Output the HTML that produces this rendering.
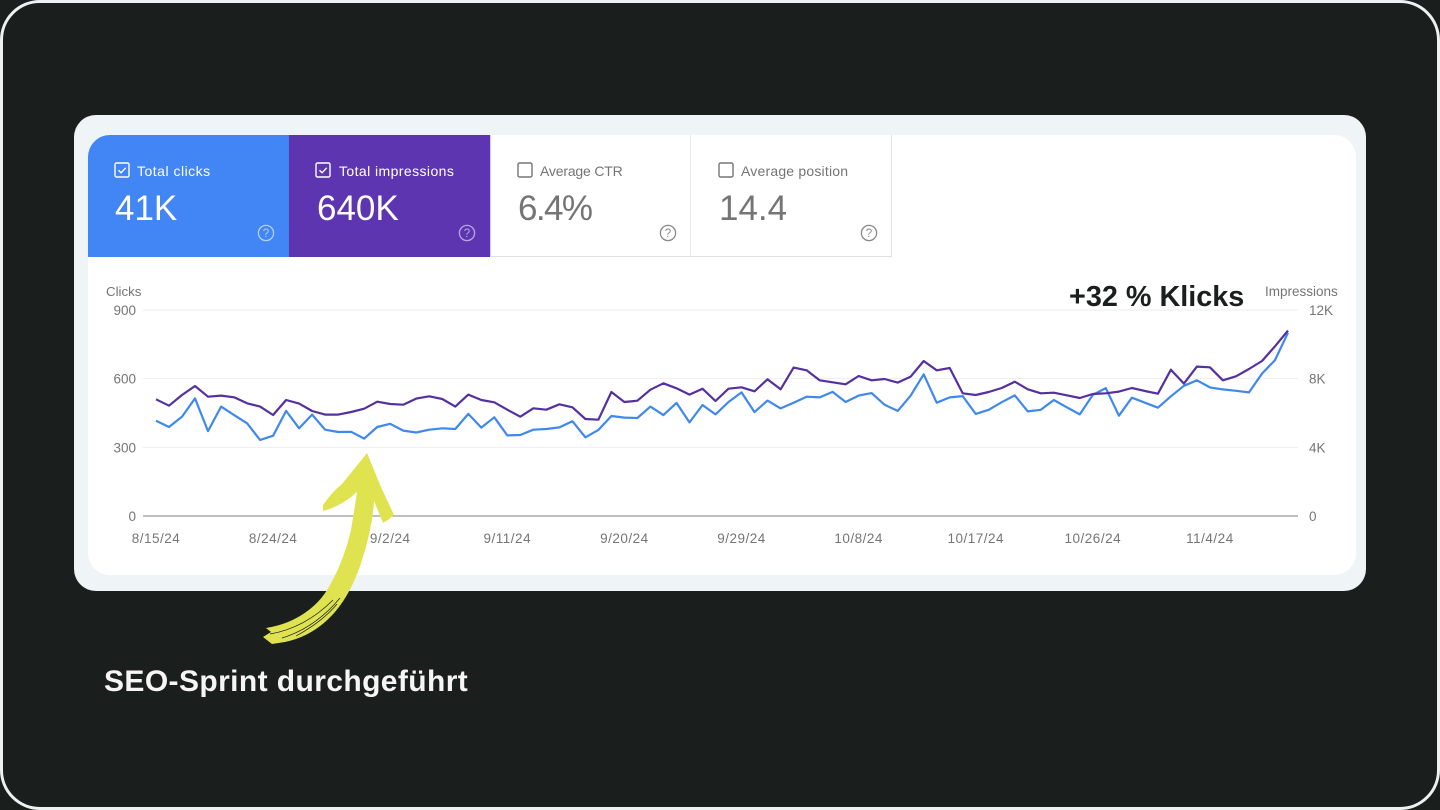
<!DOCTYPE html>
<html lang="en">
<head>
<meta charset="utf-8">
<title>Search performance chart</title>
<style>
html,body{margin:0;padding:0;width:1440px;height:810px;overflow:hidden;background:#1a1f1e;font-family:"Liberation Sans",sans-serif}
#frame{position:absolute;left:0;top:0;width:1440px;height:810px;box-sizing:border-box;border:3px solid #eef1f2;border-radius:40px;background:#1a1f1e}
#card{position:absolute;left:74px;top:115px;width:1292px;height:476px;background:#eff4f7;border-radius:22px}
#panel{position:absolute;left:88px;top:135px;width:1268px;height:440px;background:#fff;border-radius:22px}
.tile{position:absolute;top:135px;height:122px;width:201px;box-sizing:border-box}
.tile .lab{position:absolute;left:49px;top:27px;font-size:14px;line-height:18px;white-space:nowrap}
.tile .num{position:absolute;left:27px;top:53px;font-size:35px;line-height:42px;white-space:nowrap}
.tile svg{position:absolute}
.tile .cb{left:26px;top:27px}
.tile .q{left:169px;top:89px}
#t1{left:88px;background:#4285f4;color:#fff;border-top-left-radius:22px}
#t2{left:289px;background:#5e35b1;color:#fff}
#t3{left:490px;background:#fff;color:#757575;border-left:1px solid #d9c9f5;border-bottom:1px solid #dfe1e5;border-right:1px solid #e6e8ea}
#t4{left:691px;background:#fff;color:#757575;border-bottom:1px solid #dfe1e5;border-right:1px solid #dfe1e5}
#t1 .lab{letter-spacing:.5px}
#t2 .lab{letter-spacing:.42px;left:50px}
#t2 .num{left:28px}
#t3 .lab{left:49px;letter-spacing:-.18px}#t3 .num{left:27px;letter-spacing:-1.6px}#t3 .cb{left:26px}#t3 .q{left:168px}
#t4 .lab{left:50px;letter-spacing:.2px}#t4 .num{left:28px}#t4 .cb{left:27px}#t4 .q{left:169px}
#chart{position:absolute;left:0;top:0}
#arrow{position:absolute;left:0;top:0}
.note{position:absolute;font-weight:700;white-space:nowrap;line-height:36px}
#klicks{left:1069px;top:279px;font-size:28.8px;color:#1a1f1e}
#sprint{left:104px;top:664px;font-size:30px;letter-spacing:.4px;color:#f4f5f4}
</style>
</head>
<body>
<div id="frame"></div>
<div id="card"></div>
<div id="panel"></div>

<div class="tile" id="t1">
  <svg class="cb" width="17" height="17" viewBox="0 0 17 17"><rect x="1" y="1" width="14" height="14" rx="1.5" fill="none" stroke="#fff" stroke-width="1.4"/><path d="M4.5 8.2l2.6 2.6 4.6-5" fill="none" stroke="#fff" stroke-width="1.4"/></svg>
  <div class="lab">Total clicks</div>
  <div class="num">41K</div>
  <svg class="q" width="18" height="18" viewBox="0 0 18 18"><circle cx="9" cy="9" r="7.6" fill="none" stroke="#b3d0fb" stroke-width="1.3"/><text x="9" y="13" text-anchor="middle" font-size="11.5" fill="#b3d0fb" font-family="Liberation Sans">?</text></svg>
</div>
<div class="tile" id="t2">
  <svg class="cb" width="17" height="17" viewBox="0 0 17 17"><rect x="1" y="1" width="14" height="14" rx="1.5" fill="none" stroke="#fff" stroke-width="1.4"/><path d="M4.5 8.2l2.6 2.6 4.6-5" fill="none" stroke="#fff" stroke-width="1.4"/></svg>
  <div class="lab">Total impressions</div>
  <div class="num">640K</div>
  <svg class="q" width="18" height="18" viewBox="0 0 18 18"><circle cx="9" cy="9" r="7.6" fill="none" stroke="#b9a5e0" stroke-width="1.3"/><text x="9" y="13" text-anchor="middle" font-size="11.5" fill="#b9a5e0" font-family="Liberation Sans">?</text></svg>
</div>
<div class="tile" id="t3">
  <svg class="cb" width="17" height="17" viewBox="0 0 17 17"><rect x="1" y="1" width="14" height="14" rx="1.5" fill="none" stroke="#757575" stroke-width="1.4"/></svg>
  <div class="lab">Average CTR</div>
  <div class="num">6.4%</div>
  <svg class="q" width="18" height="18" viewBox="0 0 18 18"><circle cx="9" cy="9" r="7.6" fill="none" stroke="#8a8a8a" stroke-width="1.3"/><text x="9" y="13" text-anchor="middle" font-size="11.5" fill="#8a8a8a" font-family="Liberation Sans">?</text></svg>
</div>
<div class="tile" id="t4">
  <svg class="cb" width="17" height="17" viewBox="0 0 17 17"><rect x="1" y="1" width="14" height="14" rx="1.5" fill="none" stroke="#757575" stroke-width="1.4"/></svg>
  <div class="lab">Average position</div>
  <div class="num">14.4</div>
  <svg class="q" width="18" height="18" viewBox="0 0 18 18"><circle cx="9" cy="9" r="7.6" fill="none" stroke="#8a8a8a" stroke-width="1.3"/><text x="9" y="13" text-anchor="middle" font-size="11.5" fill="#8a8a8a" font-family="Liberation Sans">?</text></svg>
</div>

<svg id="chart" width="1440" height="810" viewBox="0 0 1440 810"></svg>

<svg id="arrow" width="1440" height="810" viewBox="0 0 1440 810">
  <path fill="#e0e350" d="M367 453 L381 487 L394 515 L388 520 L383 523 L374 501 Q372 530 362 560 Q352 592 335 612 Q314 636 285 642 L272 644 L263 637 L271 632 L266 628 Q285 625 300 616 Q320 604 330 585 Q344 560 351 530 Q354 512 357 492 Q342 506 323 511 L323 505 Q332 492 342 484 Z"/>
  <path fill="none" stroke="#1a1f1e" stroke-width="0.7" d="M270 634 Q305 628 333 600 M282 638 Q315 628 340 598 M296 636 Q322 622 337 604"/>
</svg>

<div class="note" id="klicks">+32 % Klicks</div>
<div class="note" id="sprint">SEO-Sprint durchgeführt</div>

<script>
const dates = ["8/15/24","8/24/24","9/2/24","9/11/24","9/20/24","9/29/24","10/8/24","10/17/24","10/26/24","11/4/24"];
const leftTicks = [0,300,600,900];
const rightTicks = [0,4000,8000,12000];
const rightTickLabels = ["0","4K","8K","12K"];
const clicks = [416,389,434,514,371,478,441,405,332,351,459,383,443,377,367,368,338,389,403,373,365,377,383,380,446,386,431,352,354,377,380,387,414,344,376,437,430,428,478,441,494,409,485,444,498,540,454,504,470,495,521,518,542,498,526,537,486,459,526,619,495,518,524,446,464,497,527,457,464,507,475,444,529,559,438,517,495,473,523,569,593,562,553,547,540,622,681,801];
const impressions = [6797,6428,7049,7574,6952,7011,6914,6564,6370,5884,6758,6545,6117,5904,5904,6059,6253,6661,6525,6486,6836,6972,6816,6370,7069,6758,6622,6195,5787,6273,6195,6506,6331,5651,5612,7224,6642,6719,7360,7729,7438,7069,7418,6700,7418,7496,7263,7962,7380,8642,8487,7904,7787,7671,8156,7904,7982,7768,8118,9030,8487,8622,7147,7049,7224,7457,7826,7380,7147,7185,7030,6875,7108,7147,7244,7457,7283,7127,8525,7710,8700,8661,7904,8137,8564,9030,9885,10798];
const daysBetweenDateLabels = 9;

const svg = document.getElementById('chart');
const NS = 'http://www.w3.org/2000/svg';
function xAt(i){ return 156 + (1288 - 156) * i / (clicks.length - 1); }
function yClicks(v){ return 516 - v * (206 / 900); }
function yImpr(v){ return 516 - v * (206 / 12000); }
function make(tag, attrs, text){
  const el = document.createElementNS(NS, tag);
  for (const k in attrs) el.setAttribute(k, attrs[k]);
  if (text !== undefined) el.textContent = text;
  svg.appendChild(el);
  return el;
}
const font = {'font-family':'Liberation Sans, sans-serif','font-size':'13.5','fill':'#757575'};

leftTicks.forEach(function(t, i){
  const y = yClicks(t);
  const line = make('line', {x1:143, x2:1298, y1:y, y2:y, stroke: t === 0 ? '#9a9a9a' : '#eeeeee', 'stroke-width': t === 0 ? 1.2 : 1});
  
  
  const lab = make('text', Object.assign({x:136, y:y + 5, 'text-anchor':'end'}, font), String(t));
  
  
});
rightTicks.forEach(function(t, i){
  const lab = make('text', Object.assign({x:1309, y:yImpr(t) + 5}, font), rightTickLabels[i]);
  
  
});
dates.forEach(function(d, i){
  const lab = make('text', Object.assign({x:xAt(i * daysBetweenDateLabels), y:543, 'text-anchor':'middle', 'letter-spacing':'0.5'}, font), d);
  
  
});
const leftTitle = make('text', Object.assign({x:106, y:296}, font, {'font-size':'13.3'}), 'Clicks');


const rightTitle = make('text', Object.assign({x:1265, y:296}, font, {'font-size':'13.5'}), 'Impressions');



function pts(vals, yFn){ return vals.map(function(v, i){ return xAt(i).toFixed(1) + ',' + yFn(v).toFixed(1); }).join(' '); }
const clicksLine = make('polyline', {points:pts(clicks, yClicks), fill:'none', stroke:'#3f88ee', 'stroke-width':2.2, 'stroke-linejoin':'round'});


const imprLine = make('polyline', {points:pts(impressions, yImpr), fill:'none', stroke:'#55309f', 'stroke-width':2.2, 'stroke-linejoin':'round'});


</script>
</body>
</html>
